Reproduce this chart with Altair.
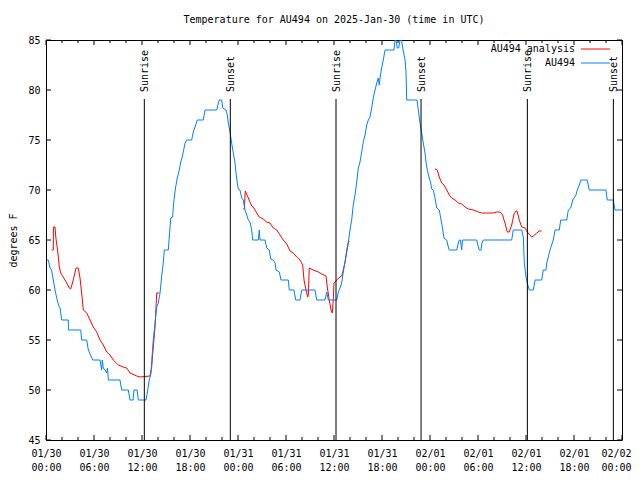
import json
import altair as alt
import pandas as pd

TITLE = "Temperature for AU494 on 2025-Jan-30 (time in UTC)"
Y_TITLE = "degrees F"
SERIES = ["AU494 analysis", "AU494"]
COLORS = ["#ff0000", "#0080ff"]
FONT = "DejaVu Sans Mono"

DAY_LABELS = ["01/30", "01/31", "02/01", "02/02"]
TIME_LABELS = ["00:00", "06:00", "12:00", "18:00"]
X_TICKS = list(range(0, 73, 6))
X_MINOR = [h for h in range(0, 73, 2) if h % 6]
Y_TICKS = [45, 50, 55, 60, 65, 70, 75, 80, 85]

SUN_EVENTS = ["Sunrise", "Sunset", "Sunrise", "Sunset", "Sunrise", "Sunset"]
SUN_HOURS = [12.29, 23.04, 36.25, 46.88, 60.17, 70.92]

# AU494 observations (hours since 2025-01-30 00:00 UTC, degrees F)
OBS_HOURS = [0.13, 0.29, 0.5, 0.69, 0.91, 1.13, 1.34, 1.56, 1.75, 1.96, 2.79, 2.8, 4.34, 4.46, 5.09, 5.29,
             5.84, 6.75, 6.96, 7.04, 7.16, 7.38, 7.59, 7.69, 7.79, 9.25, 9.46, 10.29, 10.5, 10.88, 11.0,
             11.38, 11.54, 12.5, 12.66, 12.91, 13.13, 13.25, 13.41, 13.63, 13.84, 14.04, 14.25, 14.38,
             14.5, 14.66, 14.79, 15.29, 15.41, 15.59, 15.84, 15.91, 16.04, 16.21, 16.41, 16.66, 16.84,
             17.0, 17.16, 17.38, 17.59, 18.21, 18.41, 18.63, 18.91, 19.66, 19.88, 21.34, 21.54, 21.66,
             21.96, 22.09, 22.5, 22.66, 22.79, 23.0, 23.21, 23.41, 23.63, 23.75, 23.91, 24.04, 24.25,
             24.46, 24.66, 24.88, 25.09, 25.29, 25.5, 25.71, 25.84, 26.54, 26.66, 26.75, 27.38, 27.59,
             27.91, 28.09, 28.41, 28.63, 28.75, 29.16, 29.38, 30.29, 30.41, 31.0, 31.21, 31.75, 31.96,
             33.63, 33.84, 34.88, 35.09, 35.29, 36.34, 36.54, 36.75, 36.96, 37.16, 37.38, 37.59, 37.79,
             38.0, 38.21, 38.41, 38.63, 38.84, 39.04, 39.25, 39.46, 39.66, 39.88, 40.09, 40.29, 40.5,
             40.71, 40.91, 41.13, 41.34, 41.54, 41.66, 41.75, 41.96, 42.16, 42.38, 43.5, 43.63, 43.75,
             43.91, 44.09, 44.25, 44.44, 44.59, 44.88, 45.0, 45.09, 46.38, 46.54, 46.75, 46.96, 47.16,
             47.38, 47.5, 47.66, 47.91, 48.09, 48.21, 48.41, 48.63, 48.84, 49.16, 49.34, 49.54, 49.75,
             50.09, 50.29, 50.41, 51.34, 51.54, 51.66, 51.81, 51.96, 52.06, 53.84, 54.04, 54.16, 54.38,
             54.5, 54.66, 58.21, 58.41, 59.46, 59.66, 59.79, 60.0, 60.16, 60.41, 60.91, 61.13, 61.96,
             62.16, 62.5, 62.59, 62.79, 63.0, 63.41, 63.63, 64.16, 64.34, 65.09, 65.29, 65.59, 65.84,
             66.25, 66.41, 66.66, 66.84, 67.66, 67.91, 70.0, 70.16, 70.91, 71.13, 72.0]
OBS_TEMP = [63.0, 63.0, 62.2, 62.0, 61.0, 60.0, 59.2, 58.5, 58.2, 57.0, 57.0, 56.0, 56.0, 55.0, 55.0, 54.0,
            53.0, 53.0, 52.0, 53.0, 52.2, 52.0, 51.7, 52.2, 51.0, 51.0, 50.0, 50.0, 49.0, 49.0, 50.0,
            50.0, 49.0, 49.0, 49.7, 51.0, 51.7, 53.3, 55.0, 56.7, 58.3, 58.7, 59.7, 60.7,
            61.7, 62.7, 64.0, 64.0, 65.3, 67.2, 67.3, 68.3, 69.3, 70.3, 71.2, 72.0, 72.8,
            73.2, 73.8, 74.7, 75.0, 75.0, 75.8, 76.3, 77.0, 77.0, 78.0, 78.0, 78.7, 79.0,
            79.0, 78.2, 78.0, 77.5, 76.7, 75.8, 74.7, 73.7, 72.7, 71.7, 70.7, 70.1, 70.0,
            69.2, 69.0, 68.0, 67.5, 67.0, 66.8, 66.0, 65.0, 65.0, 66.0, 65.0, 65.0, 64.2,
            64.0, 63.1, 63.0, 62.7, 62.0, 61.8, 61.0, 61.0, 60.0, 60.0, 59.0, 59.0, 60.0,
            60.0, 59.0, 59.0, 59.8, 59.0, 59.0, 59.8, 60.2, 60.7, 61.8, 62.8, 64.0, 64.8,
            66.0, 67.0, 68.5, 69.5, 70.8, 72.2, 72.8, 73.8, 74.8, 75.5, 76.5, 77.0, 77.3,
            78.2, 79.2, 80.0, 80.7, 81.2, 80.5, 81.2, 82.2, 83.0, 84.0, 84.0, 85.0, 85.0,
            84.2, 84.2, 85.0, 85.0, 84.2, 83.0, 81.8, 79.0, 79.0, 78.0, 76.7, 75.7, 74.7,
            73.7, 72.8, 72.0, 71.2, 70.7, 70.1, 70.0, 69.2, 68.2, 68.0, 67.2, 66.3, 65.2,
            65.0, 64.3, 64.0, 64.0, 64.7, 65.0, 65.0, 64.0, 65.0, 65.0, 64.3, 64.0, 64.0,
            64.7, 65.0, 65.0, 66.0, 66.0, 65.3, 62.7, 61.3, 60.7, 60.0, 60.0, 61.0, 61.0,
            62.0, 62.0, 62.7, 63.3, 64.0, 65.0, 66.0, 66.0, 67.0, 67.0, 68.0, 68.2, 69.0,
            69.5, 70.0, 70.5, 71.0, 71.0, 70.0, 70.0, 69.0, 69.0, 68.0, 68.0]

# AU494 analysis: three separate runs (hours, degrees F)
ANA1_HOURS = [0.71, 0.91, 0.93, 1.13, 1.19, 1.25, 1.41, 1.54, 1.66, 1.84, 2.16, 2.59, 2.91, 3.09, 3.41,
              3.75, 4.04, 4.25, 4.46, 4.66, 5.09, 5.5, 5.91, 6.34, 6.75, 7.16, 7.59, 8.0, 8.41, 9.04,
              9.66, 10.09, 10.5, 11.34, 11.75, 13.0, 13.21, 13.41, 13.63, 13.84, 14.16]
ANA1_TEMP = [64.0, 64.0, 66.3, 66.3, 65.6, 65.1, 64.2, 63.3, 62.3, 61.7, 61.3, 60.7, 60.2, 60.1, 61.0,
             62.2, 62.2, 61.2, 59.7, 58.0, 57.7, 57.0, 56.3, 55.8, 55.0, 54.5, 53.8, 53.5, 53.0, 52.5,
             52.3, 52.2, 51.7, 51.4, 51.3, 51.4, 52.3, 54.3, 56.3, 59.7, 59.7]
ANA2_HOURS = [24.66, 24.79, 24.91, 25.29, 25.71, 25.91, 26.34, 26.66, 27.16, 27.59, 28.0, 28.41, 28.84,
              29.25, 29.66, 30.09, 30.5, 30.91, 31.34, 31.75, 32.09, 32.25, 32.5, 32.71, 32.79, 32.91,
              33.41, 34.04, 34.46, 35.0, 35.16, 35.41, 35.63, 35.79, 35.91, 36.0, 36.34, 36.75, 36.96,
              37.16, 37.38, 37.59, 37.79, 37.91]
ANA2_TEMP = [68.1, 68.1, 69.9, 69.2, 68.4, 68.3, 67.7, 67.3, 67.1, 66.8, 66.7, 66.2, 66.0,
             65.5, 65.0, 64.6, 63.9, 63.7, 63.3, 63.0, 62.5, 61.0, 60.0, 59.3, 59.5, 62.2,
             62.0, 61.8, 61.6, 61.4, 60.3, 59.0, 58.0, 57.7, 59.0, 60.7, 61.0, 61.3, 61.4,
             62.0, 62.8, 63.8, 64.7, 64.9]
ANA3_HOURS = [48.63, 48.91, 49.16, 49.46, 49.75, 50.09, 50.41, 50.71, 51.13, 51.54, 51.96, 52.38, 52.79,
              53.41, 54.04, 54.46, 55.91, 56.34, 56.75, 57.09, 57.25, 57.38, 57.5, 57.66, 57.91, 58.21,
              58.5, 58.75, 58.88, 59.16, 59.46, 59.88, 60.16, 60.5, 60.71, 60.91, 61.34, 61.66, 61.96]
ANA3_TEMP = [72.1, 72.0, 71.3, 70.7, 70.5, 70.0, 69.5, 69.2, 69.0, 68.7, 68.6, 68.3, 68.1,
             68.0, 67.8, 67.7, 67.7, 67.8, 67.8, 67.5, 67.0, 66.7, 66.3, 65.8, 65.8, 66.5,
             67.6, 67.9, 67.9, 67.0, 66.3, 66.2, 65.8, 65.5, 65.3, 65.4, 65.7, 65.9, 65.9]

W, H = 576, 400

obs = pd.DataFrame({"h": OBS_HOURS, "t": OBS_TEMP})
obs["i"] = range(len(obs))
ana = pd.concat([
    pd.DataFrame({"h": hh, "t": tt, "seg": k})
    for k, (hh, tt) in enumerate([(ANA1_HOURS, ANA1_TEMP), (ANA2_HOURS, ANA2_TEMP), (ANA3_HOURS, ANA3_TEMP)])
], ignore_index=True)
ana["i"] = range(len(ana))
sun = pd.DataFrame({"h": SUN_HOURS, "ev": SUN_EVENTS})

label_expr = ("[{d}[floor(datum.value / 24)], {t}[floor((datum.value % 24) / 6)]]"
              .format(d=json.dumps(DAY_LABELS), t=json.dumps(TIME_LABELS)))
last_tick = X_TICKS[-1]

x_enc = alt.X("h:Q", scale=alt.Scale(domain=[0, 72], nice=False, zero=False),
              axis=alt.Axis(values=X_TICKS, labelExpr=label_expr, ticks=False, domain=False,
                            grid=False, title=None, labelFont=FONT, labelFontSize=10,
                            labelColor="black", labelPadding=8, labelLineHeight=14,
                            labelBaseline="top", labelFlush=False, labelOverlap=False,
                            labelAlign={"expr": f"datum.value >= {last_tick} ? 'right' : 'center'"},
                            labelOffset={"expr": f"datum.value >= {last_tick} ? 9 : 0"}))
y_enc = alt.Y("t:Q", scale=alt.Scale(domain=[45, 85], nice=False, zero=False),
              axis=alt.Axis(values=Y_TICKS, ticks=False, domain=False, grid=False,
                            title=Y_TITLE, titleFont=FONT, titleFontSize=10,
                            titleFontWeight="normal", titleColor="black", titlePadding=9,
                            labelFont=FONT, labelFontSize=10, labelColor="black",
                            labelPadding=6))

ana_line = alt.Chart(ana).mark_line(color=COLORS[0], strokeWidth=1, clip=True).encode(
    x=x_enc, y=y_enc, detail="seg:N", order="i:Q")
obs_line = alt.Chart(obs).mark_line(color=COLORS[1], strokeWidth=1, clip=True).encode(
    x=x_enc, y=y_enc, order="i:Q")

sun_rule = alt.Chart(sun).mark_rule(color="black", strokeWidth=1).encode(
    x=x_enc, y=alt.value(59), y2=alt.value(H))
sun_text = alt.Chart(sun).mark_text(angle=270, align="left", baseline="middle", font=FONT,
                                    fontSize=10, color="black", dy=1).encode(
    x=x_enc, y=alt.value(52), text="ev:N")

xmaj = pd.DataFrame({"h": X_TICKS})
xmin = pd.DataFrame({"h": X_MINOR})
ymaj = pd.DataFrame({"t": Y_TICKS})
MAJ, MIN = 5, 3
tick_layers = [
    alt.Chart(xmaj).mark_rule(color="black").encode(x=x_enc, y=alt.value(H), y2=alt.value(H - MAJ)),
    alt.Chart(xmaj).mark_rule(color="black").encode(x=x_enc, y=alt.value(0), y2=alt.value(MAJ)),
    alt.Chart(xmin).mark_rule(color="black").encode(x=x_enc, y=alt.value(H), y2=alt.value(H - MIN)),
    alt.Chart(xmin).mark_rule(color="black").encode(x=x_enc, y=alt.value(0), y2=alt.value(MIN)),
    alt.Chart(ymaj).mark_rule(color="black").encode(y=y_enc, x=alt.value(0), x2=alt.value(MAJ)),
    alt.Chart(ymaj).mark_rule(color="black").encode(y=y_enc, x=alt.value(W), x2=alt.value(W - MAJ)),
]

legend_layers = []
for i, (name, col) in enumerate(zip(SERIES, COLORS)):
    ld = pd.DataFrame({"name": [name]})
    yy = 9 + 14 * i
    legend_layers.append(alt.Chart(ld).mark_text(align="right", baseline="middle", font=FONT,
                                                 fontSize=10, color="black").encode(
        text="name:N", x=alt.value(529), y=alt.value(yy)))
    legend_layers.append(alt.Chart(ld).mark_rule(color=col, strokeWidth=1).encode(
        x=alt.value(535), x2=alt.value(564), y=alt.value(yy)))

chart = alt.layer(ana_line, obs_line, sun_rule, sun_text, *tick_layers, *legend_layers).properties(
    width=W, height=H,
    title=alt.TitleParams(TITLE, font=FONT, fontSize=10, fontWeight="normal", color="black",
                          anchor="middle", offset=10),
    autosize=alt.AutoSizeParams(type="none"),
    padding={"left": 38, "top": 32, "right": 10, "bottom": 32},
    background="white",
).configure_view(stroke="black", strokeWidth=1)

chart.save("out.html", embed_options={"renderer": "svg", "actions": False})
